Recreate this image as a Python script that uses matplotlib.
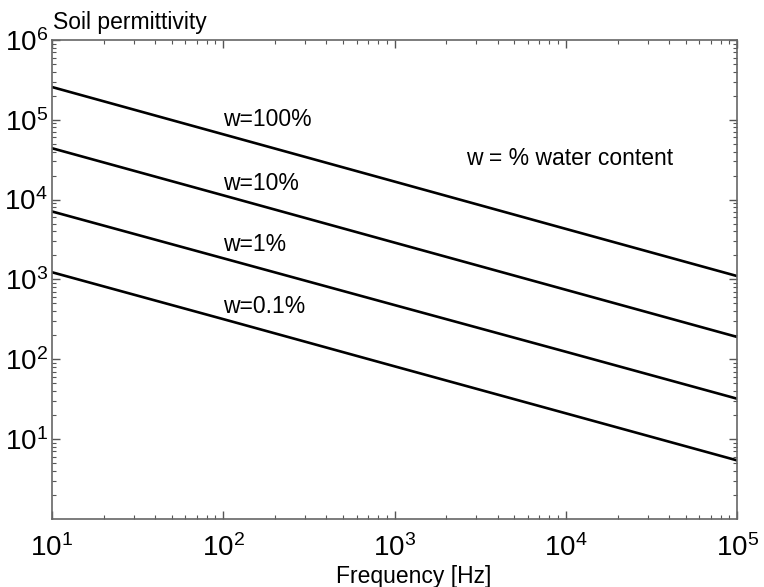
import matplotlib
matplotlib.use("Agg")
import matplotlib.pyplot as plt
from matplotlib.ticker import LogLocator, LogFormatterMathtext, NullFormatter

plt.rcParams['font.family'] = ['Liberation Sans', 'DejaVu Sans']
plt.rcParams['mathtext.fontset'] = 'custom'
plt.rcParams['mathtext.rm'] = 'Liberation Sans'
plt.rcParams['mathtext.it'] = 'Liberation Sans:italic'
plt.rcParams['mathtext.default'] = 'regular'

freq = [10, 100, 1000, 10000, 100000]
w100 = [2.57e5, 6.57e4, 1.68e4, 4.29e3, 1.10e3]
w10 = [4.40e4, 1.13e4, 2.89e3, 7.41e2, 1.90e2]
w1 = [7.10e3, 1.84e3, 4.77e2, 1.24e2, 3.20e1]
w01 = [1.23e3, 3.18e2, 8.15e1, 2.10e1, 5.40]
series = [w100, w10, w1, w01]
labels = ["w=100%", "w=10%", "w=1%", "w=0.1%"]
label_y = [1.0e5, 1.6e4, 2.7e3, 4.6e2]

fig = plt.figure(figsize=(7.64, 5.87), dpi=100)
ax = fig.add_axes([0.068, 0.116, 0.897, 0.816])

for s in series:
    ax.plot(freq, s, color='black', lw=1.9)

ax.set_xscale('log')
ax.set_yscale('log')
ax.set_xlim(10, 1e5)
ax.set_ylim(1, 1e6)

ax.xaxis.set_major_locator(LogLocator(base=10, numticks=10))
ax.yaxis.set_major_locator(LogLocator(base=10, numticks=10))
ax.xaxis.set_minor_locator(LogLocator(base=10, subs=range(2, 10), numticks=20))
ax.yaxis.set_minor_locator(LogLocator(base=10, subs=range(2, 10), numticks=20))
ax.xaxis.set_major_formatter(LogFormatterMathtext())
ax.yaxis.set_major_formatter(LogFormatterMathtext())
ax.xaxis.set_minor_formatter(NullFormatter())
ax.yaxis.set_minor_formatter(NullFormatter())
ax.set_yticks([1e1, 1e2, 1e3, 1e4, 1e5, 1e6])

ax.tick_params(which='both', direction='in', top=True, right=True, colors='#555555',
               labelcolor='black', labelsize=20)
ax.tick_params(which='major', length=6, width=1)
ax.tick_params(which='minor', length=3, width=0.8)
ax.tick_params(axis='x', which='major', pad=11)
ax.tick_params(axis='y', which='major', pad=3)
for sp in ax.spines.values():
    sp.set_color('#666666')
    sp.set_linewidth(1.2)

fig.text(414 / 764, 1 - 577 / 587, "Frequency [Hz]", fontsize=16.5, ha='center', va='center')
fig.text(53 / 764, 1 - 22 / 587, "Soil permittivity", fontsize=16.5, ha='left', va='center')

for lab, ly in zip(labels, label_y):
    ax.text(100, ly, lab, fontsize=16.5, ha='left', va='center')
ax.text(2.6e3, 3.3e4, "w = % water content", fontsize=16.5, ha='left', va='center')

fig.savefig("out.png", dpi=100)
